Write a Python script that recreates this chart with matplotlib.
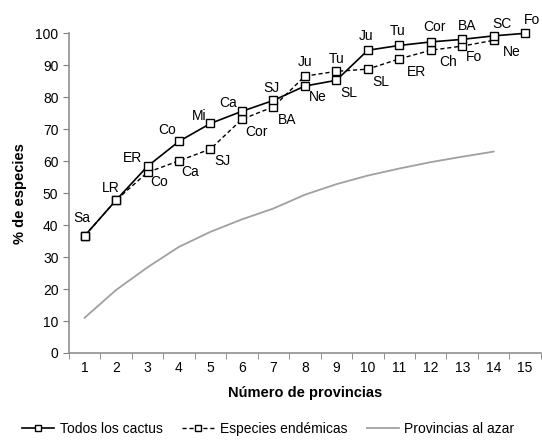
import numpy as np
import matplotlib.pyplot as plt

plt.rcParams['font.family'] = ['Liberation Sans', 'DejaVu Sans']

# data
provincias = np.arange(1, 16)
todos = [36.6, 47.8, 58.4, 66.2, 71.8, 75.6, 79.0, 83.5, 85.3, 94.7, 96.2, 97.3, 98.1, 99.2, 100.0]
todos_lab = ['Sa', 'LR', 'ER', 'Co', 'Mi', 'Ca', 'SJ', 'Ne', 'SL', 'Ju', 'Tu', 'Cor', 'BA', 'SC', 'Fo']

endem_x = np.arange(1, 15)
endemicas = [36.6, 47.8, 56.5, 60.1, 63.8, 73.1, 77.0, 86.6, 88.1, 88.8, 92.0, 94.7, 96.0, 97.8]
endem_lab = ['', '', 'Co', 'Ca', 'SJ', 'Cor', 'BA', 'Ju', 'Tu', 'SL', 'ER', 'Ch', 'Fo', 'Ne']

azar_x = np.arange(1, 15)
azar = [11.0, 19.7, 26.8, 33.2, 37.9, 41.8, 45.2, 49.5, 52.8, 55.5, 57.7, 59.7, 61.4, 63.0]

# label offsets in pixels
todos_off = [(-3, 18), (-5, 12), (-15, 8), (-12, 11), (-11, 7), (-14, 8), (-2, 12),
             (13, -11), (12, -13), (-2, 14), (-2, 14), (4, 15), (5, 13), (8, 12), (7, 13)]
endem_off = [(0, 0), (0, 0), (12, -10), (11, -11), (12, -12), (15, -13), (14, -13),
             (0, 14), (0, 12), (13, -13), (17, -13), (17, -12), (12, -11), (18, -12)]

fig = plt.figure(figsize=(5.42, 4.44), dpi=100)
ax = fig.add_axes([0.127, 0.205, 0.871, 0.72])

ax.plot(azar_x, azar, color='#a0a0a0', lw=1.3, label='Provincias al azar')
ax.plot(endem_x, endemicas, color='black', lw=1.0, ls=(0, (3, 2)), marker='s', ms=5.5,
        mfc='white', mec='black', mew=1.0, label='Especies endémicas')
ax.plot(provincias, todos, color='black', lw=1.2, marker='s', ms=5.5,
        mfc='white', mec='black', mew=1.0, label='Todos los cactus', clip_on=False)

for x, y, t, o in zip(provincias, todos, todos_lab, todos_off):
    ax.annotate(t, (x, y), xytext=o, textcoords='offset pixels', ha='center', va='center', fontsize=10)
for x, y, t, o in zip(endem_x, endemicas, endem_lab, endem_off):
    if t:
        ax.annotate(t, (x, y), xytext=o, textcoords='offset pixels', ha='center', va='center', fontsize=10)

ax.set_xlim(0.5, 15.5)
ax.set_ylim(0, 100)
ax.set_yticks(np.arange(0, 101, 10))
ax.set_xticks(provincias)
ax.set_xticks(np.arange(0.5, 15.6, 1), minor=True)
ax.tick_params(axis='x', which='major', length=0, labelsize=10, pad=6)
ax.tick_params(axis='x', which='minor', length=4, color='#808080')
ax.tick_params(axis='y', length=4, color='#808080', labelsize=10)
for s in ['top', 'right']:
    ax.spines[s].set_visible(False)
for s in ['left', 'bottom']:
    ax.spines[s].set_color('#909090')
    ax.spines[s].set_linewidth(1.2)

ax.set_xlabel('Número de provincias', fontsize=10.5, fontweight='bold', labelpad=8)
ax.set_ylabel('% de especies', fontsize=10.5, fontweight='bold', labelpad=6)

h, l = ax.get_legend_handles_labels()
fig.legend(h[::-1], l[::-1], loc='lower center', bbox_to_anchor=(0.495, -0.01), ncol=3,
           frameon=False, fontsize=10, handlelength=2.3, columnspacing=1.4, handletextpad=0.4,
           markerscale=0.8)

plt.savefig('out.png', dpi=100)
